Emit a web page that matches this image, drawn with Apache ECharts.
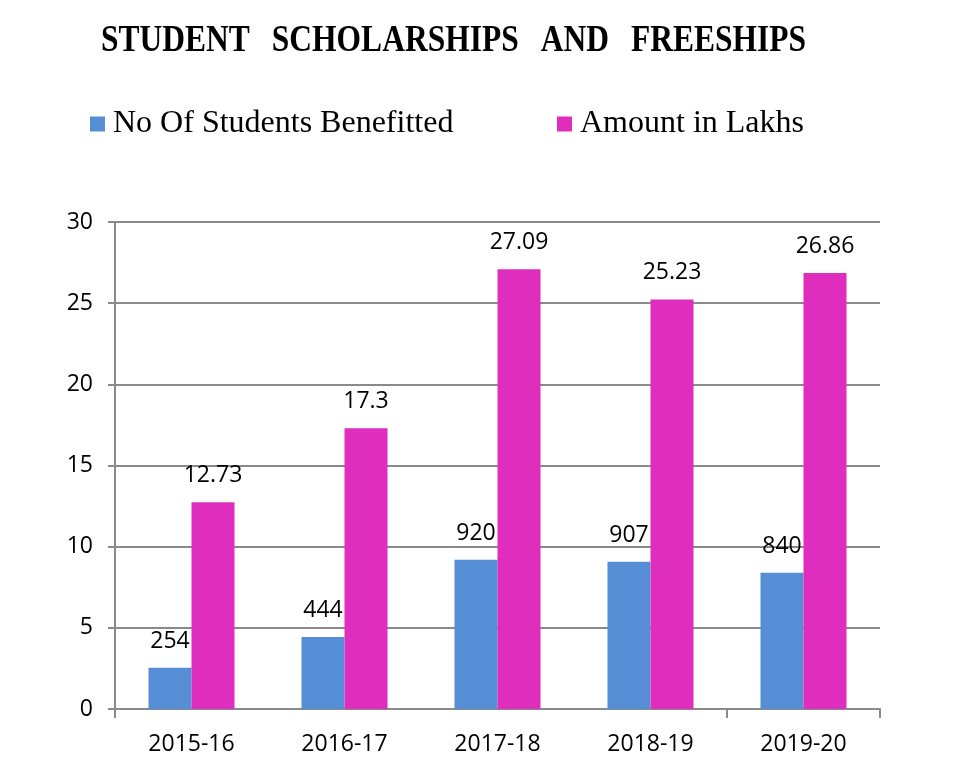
<!DOCTYPE html>
<html><head><meta charset="utf-8">
<script src="https://cdn.jsdelivr.net/npm/echarts@6/dist/echarts.min.js"></script>
<style>html,body{margin:0;padding:0;background:#fff}#c{width:973px;height:779px}</style>
</head><body><div id="c"></div>
<script>
const categories = ['2015-16','2016-17','2017-18','2018-19','2019-20'];
const studentsBenefitted = [254, 444, 920, 907, 840];
const studentsPlotted = [2.54, 4.44, 9.2, 9.07, 8.4];
const amountLakhs = [12.73, 17.3, 27.09, 25.23, 26.86];
const yTicks = [0, 5, 10, 15, 20, 25, 30];
const titleWords = ['STUDENT', 'SCHOLARSHIPS', 'AND', 'FREESHIPS'];

const chart = echarts.init(document.getElementById('c'));
const serif = '"Liberation Serif", "Times New Roman", serif';
const sans = '"Open Sans", "Noto Sans", sans-serif';
chart.setOption({
  animation: false,
  graphic: [{
    type: 'text', x: 101, y: 41, scaleX: 1, scaleY: 1.2,
    style: {text: titleWords.join('  \u2009'), font: 'bold 31.5px ' + serif, fill: '#000', textVerticalAlign: 'middle', verticalAlign: 'middle'}
  }],
  legend: [
    {data: ['No Of Students Benefitted'], left: 85, top: 103, icon: 'rect', itemWidth: 15, itemHeight: 15, itemGap: 8,
     textStyle: {fontFamily: serif, fontSize: 32, color: '#000', padding: [0,0,0,3]}},
    {data: ['Amount in Lakhs'], left: 552, top: 103, icon: 'rect', itemWidth: 15, itemHeight: 15,
     textStyle: {fontFamily: serif, fontSize: 32, color: '#000', padding: [0,0,0,3]}}
  ],
  grid: {left: 115, right: 93, top: 222, bottom: 70},
  xAxis: {
    type: 'category', data: categories,
    axisLine: {lineStyle: {color: '#8a8a8a', width: 2}},
    axisTick: {show: true, length: 9, lineStyle: {color: '#8a8a8a', width: 2},
      interval: (i) => i === 0 || i === 4},
    axisLabel: {fontFamily: sans, fontSize: 23, color: '#000', margin: 24}
  },
  yAxis: {
    type: 'value', min: 0, max: 30, interval: 5,
    axisLine: {show: true, lineStyle: {color: '#8a8a8a', width: 2}},
    axisTick: {show: true, length: 7, lineStyle: {color: '#8a8a8a', width: 2}},
    axisLabel: {fontFamily: sans, fontSize: 23, color: '#000', margin: 22,
      formatter: v => yTicks.includes(v) ? String(v) : ''},
    splitLine: {lineStyle: {color: '#8a8a8a', width: 2}}
  },
  series: [
    {name: 'No Of Students Benefitted', type: 'bar', data: studentsPlotted, barWidth: 43, barGap: '0%',
     itemStyle: {color: '#558ED5'},
     label: {show: true, position: 'top', distance: 15, fontFamily: sans, fontSize: 23, color: '#000',
       formatter: p => String(studentsBenefitted[p.dataIndex])}},
    {name: 'Amount in Lakhs', type: 'bar', data: amountLakhs, barWidth: 43,
     itemStyle: {color: '#DF2EBE'},
     label: {show: true, position: 'top', distance: 15, fontFamily: sans, fontSize: 23, color: '#000'}}
  ]
});
</script></body></html>
